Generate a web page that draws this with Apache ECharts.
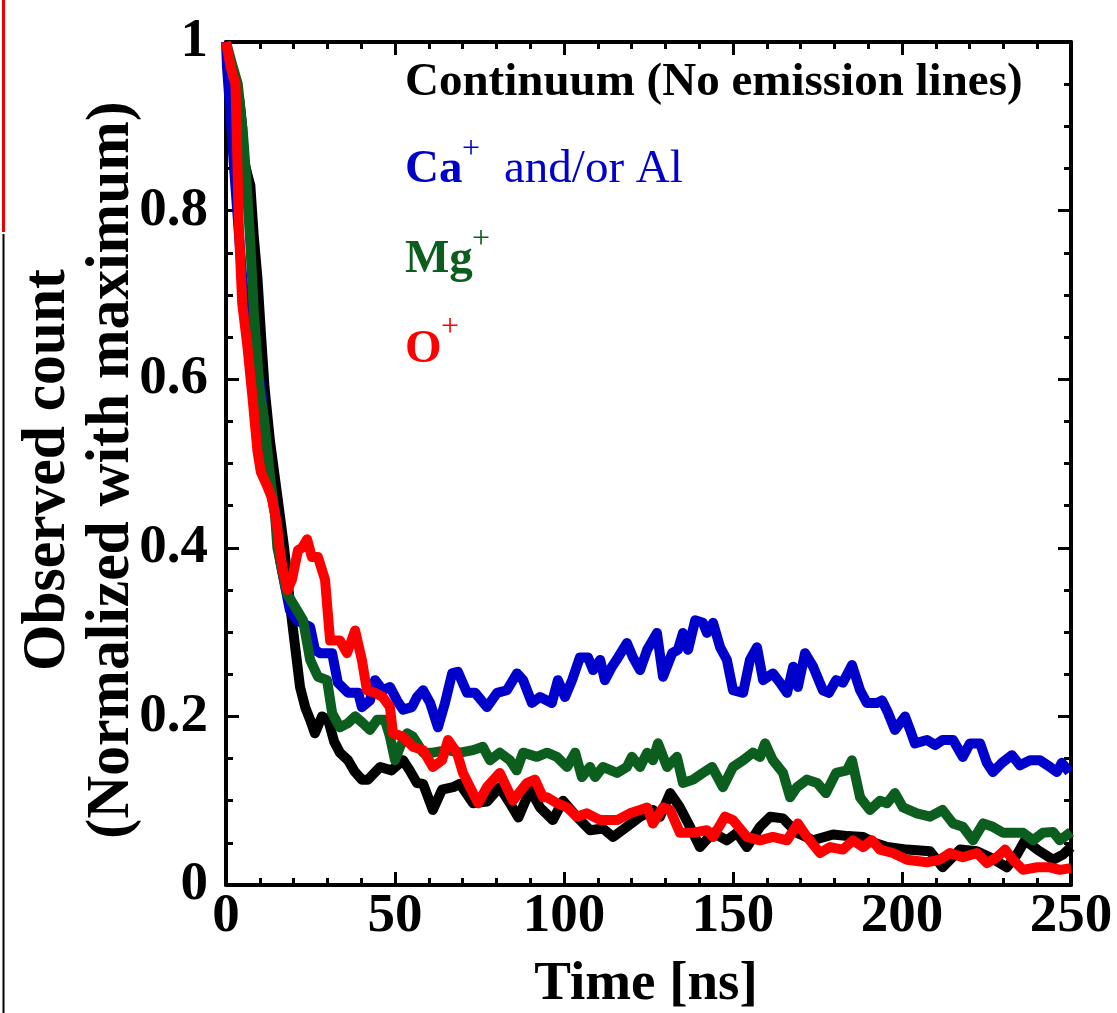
<!DOCTYPE html>
<html>
<head>
<meta charset="utf-8">
<title>Observed count</title>
<script src="https://cdn.jsdelivr.net/npm/echarts@6/dist/echarts.min.js"></script>
<style>
  html, body { margin: 0; padding: 0; background: #fff; }
  #main { width: 1117px; height: 1013px; }
</style>
</head>
<body>
<div id="main"></div>
<script>
  // time [ns], normalized count
  var continuum = [
    [0, 1], [1.5, 0.97], [2.8, 0.95], [4, 0.93], [4.8, 0.9], [5.3, 0.86], [6.5, 0.84], [7.2, 0.83],
    [8.2, 0.77], [9.3, 0.72], [10.4, 0.65], [11.4, 0.59], [13, 0.527], [15.1, 0.464], [17.2, 0.4],
    [18.5, 0.35], [19.5, 0.314], [21.9, 0.235], [23.5, 0.21], [24.9, 0.196], [26.3, 0.18], [28.4, 0.2],
    [30.2, 0.196], [32, 0.17], [33.7, 0.157], [36.1, 0.148], [38, 0.135], [40.2, 0.125], [42, 0.125],
    [45.6, 0.14], [49, 0.136], [52.4, 0.148], [54.5, 0.135], [56.5, 0.121], [58.3, 0.12], [61.2, 0.089],
    [63.9, 0.113], [67.2, 0.116], [69.2, 0.12], [73.1, 0.097], [77.2, 0.099], [81, 0.116], [84, 0.097],
    [86.5, 0.08], [90, 0.113], [92.9, 0.092], [96.7, 0.077], [99.7, 0.1], [103.8, 0.081], [107.7, 0.065],
    [111.5, 0.067], [114.5, 0.057], [118.6, 0.069], [122.5, 0.081], [126.3, 0.089], [128.4, 0.081],
    [131.4, 0.109], [134.3, 0.092], [137.3, 0.069], [140.2, 0.045], [144.1, 0.062], [148.2, 0.053],
    [151.2, 0.062], [154.1, 0.045], [158, 0.069], [161, 0.081], [164.8, 0.079], [168.9, 0.062],
    [173.7, 0.053], [179.6, 0.06], [184, 0.058], [188.5, 0.057], [192, 0.05], [195.6, 0.045],
    [201.5, 0.042], [208.3, 0.04], [212, 0.021], [217.2, 0.042], [222.2, 0.04], [226, 0.033], [231, 0.021],
    [234, 0.036], [236.4, 0.053], [240, 0.042], [244.7, 0.03], [247.6, 0.036], [250, 0.045]
  ]
  var caAl = [
    [0, 1], [0.3, 0.97], [1.4, 0.91], [2.4, 0.85], [3.5, 0.79], [4.8, 0.72], [6.3, 0.67], [8, 0.63],
    [9.2, 0.61], [10.4, 0.59], [12.4, 0.49], [14.5, 0.44], [16, 0.385], [17.2, 0.36], [18.9, 0.326],
    [21, 0.314], [24.9, 0.306], [26.3, 0.279], [27.8, 0.275], [31.4, 0.275], [33.1, 0.24], [36.1, 0.228],
    [39.1, 0.228], [40.2, 0.211], [42.6, 0.219], [44.1, 0.243], [46.4, 0.231], [48.5, 0.235], [50.6, 0.219],
    [52.4, 0.208], [55, 0.211], [56.5, 0.223], [58.3, 0.231], [60.4, 0.216], [62.7, 0.187], [64.8, 0.216],
    [66.9, 0.251], [68.6, 0.253], [71.3, 0.228], [73.7, 0.228], [77.2, 0.211], [80.2, 0.228], [83.1, 0.231],
    [86.1, 0.251], [87.9, 0.243], [90.5, 0.216], [92.9, 0.223], [96.4, 0.216], [98.2, 0.243], [100.3, 0.223],
    [102.4, 0.243], [104.7, 0.27], [107.1, 0.27], [108.6, 0.255], [110.7, 0.267], [112.1, 0.243],
    [114.2, 0.259], [116, 0.27], [118.6, 0.287], [120.4, 0.27], [122.5, 0.255], [124.6, 0.279],
    [127.5, 0.299], [129.3, 0.247], [132, 0.275], [133.7, 0.279], [135.2, 0.299], [136.7, 0.279],
    [138.8, 0.314], [141.1, 0.311], [142.3, 0.299], [144.1, 0.311], [146.2, 0.282], [148.2, 0.267],
    [150, 0.231], [153, 0.228], [155, 0.267], [157.1, 0.282], [158.9, 0.243], [161.8, 0.251], [163.9, 0.24],
    [166, 0.228], [167.8, 0.259], [169.2, 0.235], [171.3, 0.275], [173.7, 0.259], [176.6, 0.231],
    [178.4, 0.228], [180.5, 0.243], [182.5, 0.24], [185.2, 0.261], [187.6, 0.231], [189.6, 0.216],
    [192.6, 0.216], [194.1, 0.219], [195.9, 0.204], [197.9, 0.184], [200.9, 0.2], [202.4, 0.184],
    [203.8, 0.168], [207.4, 0.172], [209.8, 0.166], [212, 0.172], [215.1, 0.172], [218, 0.152],
    [220.1, 0.168], [223.1, 0.168], [225.1, 0.145], [226.9, 0.134], [229.6, 0.145], [232.5, 0.154],
    [234.9, 0.142], [237.9, 0.148], [240.8, 0.148], [243.8, 0.14], [245.8, 0.134], [247.3, 0.145],
    [249.5, 0.134]
  ]
  var mg = [
    [0, 1], [1.9, 0.972], [3.5, 0.95], [5.1, 0.887], [6.1, 0.832], [7.2, 0.76], [8.3, 0.675], [9.9, 0.59],
    [11.4, 0.548], [13, 0.485], [14.5, 0.44], [15.2, 0.4], [18, 0.346], [21, 0.326], [22.8, 0.314],
    [24.9, 0.267], [27.2, 0.247], [29.9, 0.243], [31.4, 0.204], [33.7, 0.187], [36.1, 0.192], [38.2, 0.2],
    [40.5, 0.192], [42.6, 0.184], [44.7, 0.196], [47, 0.196], [48.5, 0.176], [50, 0.148], [51.5, 0.164],
    [53.6, 0.18], [55.3, 0.176], [58.3, 0.157], [61.2, 0.157], [65.4, 0.16], [69.2, 0.157], [73.1, 0.16],
    [76, 0.164], [78.1, 0.148], [81, 0.157], [84, 0.148], [86, 0.136], [87.9, 0.157], [92, 0.152],
    [95, 0.157], [97.9, 0.152], [100.9, 0.14], [103.3, 0.157], [105.3, 0.128], [107.7, 0.14],
    [109.2, 0.128], [111.5, 0.14], [115.7, 0.133], [118.6, 0.14], [120.1, 0.152], [122.5, 0.14],
    [124.6, 0.157], [126.3, 0.148], [127.8, 0.168], [130.5, 0.14], [133.4, 0.152], [135.2, 0.121],
    [138.2, 0.125], [141.1, 0.133], [143.8, 0.14], [147, 0.116], [150, 0.14], [153, 0.148], [155.9, 0.157],
    [158, 0.152], [159.5, 0.168], [161.8, 0.148], [164.8, 0.133], [166.9, 0.104], [168.9, 0.116],
    [171.9, 0.125], [174.9, 0.121], [177.5, 0.109], [180.5, 0.133], [183.7, 0.136], [185.2, 0.148],
    [187.6, 0.104], [190.5, 0.089], [193.5, 0.1], [195.6, 0.097], [197.9, 0.109], [200.3, 0.092],
    [204.4, 0.085], [208.3, 0.081], [212, 0.089], [215.1, 0.073], [218, 0.069], [221, 0.053], [224, 0.073],
    [226.9, 0.069], [229.9, 0.062], [232.8, 0.062], [235.8, 0.062], [238.8, 0.053], [241.7, 0.062],
    [244.7, 0.063], [246.7, 0.053], [250, 0.063]
  ]
  var oPlus = [
    [0, 1], [1.4, 0.97], [2.8, 0.95], [3.3, 0.87], [3.8, 0.78], [4.8, 0.69], [6.3, 0.64], [7.8, 0.58],
    [9.3, 0.515], [10.3, 0.49], [12, 0.475], [13.5, 0.46], [15, 0.43], [16, 0.395], [17, 0.37],
    [18.2, 0.35], [19.5, 0.362], [21.3, 0.397], [22.5, 0.4], [24, 0.41], [25.4, 0.389], [27.2, 0.389],
    [29.3, 0.362], [30.8, 0.29], [33.7, 0.29], [35.8, 0.275], [38.2, 0.302], [40.2, 0.267], [41.7, 0.231],
    [44.1, 0.228], [46.4, 0.223], [48.5, 0.211], [49.4, 0.18], [52.4, 0.176], [55.3, 0.164], [58.3, 0.16],
    [61.2, 0.14], [63.9, 0.148], [65.7, 0.172], [68.3, 0.157], [70.1, 0.133], [72.2, 0.116], [74.6, 0.097],
    [77.2, 0.116], [81, 0.133], [84.9, 0.1], [89, 0.121], [91.4, 0.125], [93.8, 0.104], [95, 0.104],
    [97.9, 0.097], [100.9, 0.092], [103.8, 0.081], [106.8, 0.085], [110.7, 0.077], [115.7, 0.077],
    [119.5, 0.085], [122.5, 0.089], [124.6, 0.092], [126.3, 0.073], [129.3, 0.092], [131.4, 0.089],
    [134.3, 0.062], [138.2, 0.062], [142.3, 0.065], [144.1, 0.057], [147.6, 0.081], [150, 0.077],
    [154.1, 0.057], [158, 0.053], [161.8, 0.057], [166, 0.053], [169.2, 0.073], [171.9, 0.057],
    [175.7, 0.038], [178.7, 0.045], [182.5, 0.042], [185.5, 0.053], [188.5, 0.045], [191.1, 0.053],
    [193.5, 0.042], [197.3, 0.038], [201.5, 0.03], [207.4, 0.027], [211.2, 0.03], [214.2, 0.038],
    [218, 0.033], [222.2, 0.038], [225.1, 0.026], [228.1, 0.033], [230.5, 0.042], [232.8, 0.03],
    [235.8, 0.018], [240, 0.021], [243.8, 0.021], [246.7, 0.018], [250, 0.02]
  ]

  var seriesNames = ['Continuum (No emission lines)', 'Ca+ and/or Al', 'Mg+', 'O+']
  var seriesColors = ['#000000', '#0000cc', '#0b5e1e', '#ff0000']
  var xTitle = 'Time [ns]'
  var yTitle1 = 'Observed count'
  var yTitle2 = '(Normalized with maximum)'

  var serif = 'Liberation Serif, Times New Roman, serif'

  function axisBase(show) {
    return {
      min: 0,
      axisLine: { show: true, onZero: false, lineStyle: { color: '#000', width: 4 } },
      axisTick: { show: true, inside: true, length: 13, lineStyle: { color: '#000', width: 3 } },
      minorTick: { show: true, length: 7, lineStyle: { color: '#000', width: 3 } },
      splitLine: { show: false },
      minorSplitLine: { show: false },
      axisLabel: {
        show: show,
        fontFamily: serif,
        fontWeight: 'bold',
        fontSize: 55,
        color: '#000'
      }
    }
  }

  var xBottom = axisBase(true)
  xBottom.type = 'value'
  xBottom.max = 250
  xBottom.interval = 50
  xBottom.minorTick.splitNumber = 5
  xBottom.axisLabel.margin = 4
  var xTop = axisBase(false)
  xTop.type = 'value'
  xTop.position = 'top'
  xTop.max = 250
  xTop.interval = 50
  xTop.minorTick.splitNumber = 5

  var yLeft = axisBase(true)
  yLeft.type = 'value'
  yLeft.max = 1
  yLeft.interval = 0.2
  yLeft.minorTick.splitNumber = 4
  yLeft.axisLabel.margin = 18
  yLeft.axisLabel.padding = [0, 0, 16, 0]
  var yRight = axisBase(false)
  yRight.type = 'value'
  yRight.position = 'right'
  yRight.max = 1
  yRight.interval = 0.2
  yRight.minorTick.splitNumber = 4

  var allData = [continuum, caAl, mg, oPlus]
  var series = allData.map(function (d, i) {
    return {
      name: seriesNames[i],
      type: 'line',
      data: d,
      showSymbol: false,
      symbol: 'none',
      clip: true,
      lineStyle: { color: seriesColors[i], width: 10, join: 'round' },
      itemStyle: { color: seriesColors[i] },
      z: 2 + i
    }
  })

  function txt(x, y, text, size, weight, color, extra) {
    var s = {
      type: 'text',
      x: x,
      y: y,
      z: 100,
      style: {
        text: text,
        fontFamily: serif,
        fontSize: size,
        fontWeight: weight,
        fill: color,
        textAlign: 'left',
        textVerticalAlign: 'middle',
        verticalAlign: 'middle'
      }
    }
    if (extra) {
      for (var k in extra) s.style[k] = extra[k]
    }
    return s
  }

  // rotated y title, a bit condensed along the text like the original
  function yTitle(x, y, text) {
    var t = txt(x, y, text, 62, 'bold', '#000', { textAlign: 'center' })
    t.rotation = Math.PI / 2
    t.scaleX = 0.96
    return t
  }

  var graphics = [
    // legend-like labels inside the plot
    txt(405, 83, seriesNames[0], 47, 'bold', seriesColors[0]),
    txt(405, 170, 'Ca', 47, 'bold', seriesColors[1]),
    txt(462, 150, '+', 32, 'normal', seriesColors[1]),
    txt(504, 170, 'and/or Al', 47, 'normal', seriesColors[1]),
    txt(405, 260, 'Mg', 47, 'bold', seriesColors[2]),
    txt(472, 240, '+', 32, 'normal', seriesColors[2]),
    txt(405, 350, 'O', 47, 'bold', seriesColors[3]),
    txt(441, 328, '+', 32, 'normal', seriesColors[3]),
    // axis titles
    txt(646, 985, xTitle, 55, 'bold', '#000', { textAlign: 'center' }),
    yTitle(48, 470, yTitle1),
    yTitle(112, 470, yTitle2),
    // thin edge strips at the far left
    { type: 'line', z: 100, shape: { x1: 3.5, y1: 0, x2: 3.5, y2: 232 }, style: { stroke: '#ff0000', lineWidth: 3 } },
    { type: 'line', z: 101, shape: { x1: 3.5, y1: 0, x2: 3.5, y2: 232 }, style: { stroke: '#2020b0', lineWidth: 1 } },
    { type: 'line', z: 100, shape: { x1: 3.5, y1: 234, x2: 3.5, y2: 1013 }, style: { stroke: '#000', lineWidth: 2 } }
  ]

  var chart = echarts.init(document.getElementById('main'), null, { renderer: 'canvas' })
  chart.setOption({
    animation: false,
    backgroundColor: '#ffffff',
    grid: { left: 226, top: 42, width: 845, height: 843, containLabel: false },
    xAxis: [xBottom, xTop],
    yAxis: [yLeft, yRight],
    series: series,
    graphic: graphics
  })
</script>
</body>
</html>
